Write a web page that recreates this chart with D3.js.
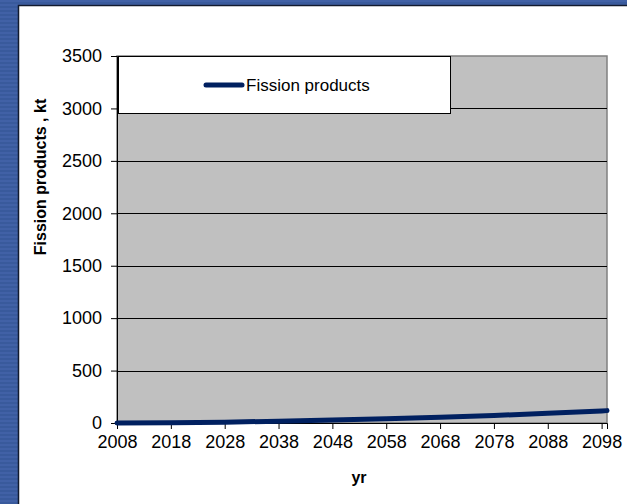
<!DOCTYPE html>
<html>
<head>
<meta charset="utf-8">
<script src="https://cdn.jsdelivr.net/npm/d3@7"></script>
<style>
  html, body { margin: 0; padding: 0; background: #fff; }
  svg { display: block; font-family: "Liberation Sans", Arial, sans-serif; }
</style>
</head>
<body>
<div id="chart"></div>
<script>
const years = [2008, 2018, 2028, 2038, 2048, 2058, 2068, 2078, 2088, 2098, 2099];
const fissionProducts = [0, 3, 8, 17, 28, 40, 55, 72, 92, 115, 118];
const yTicks = [0, 500, 1000, 1500, 2000, 2500, 3000, 3500];
const xTicks = [2008, 2018, 2028, 2038, 2048, 2058, 2068, 2078, 2088, 2098];

const width = 627,
  height = 504;
const margin = { left: 117, top: 56, right: 20, bottom: 81 };

const svg = d3.select("#chart").append("svg").attr("width", width).attr("height", height);

// striped blue slide background
const defs = svg.append("defs");
const pat = defs.append("pattern").attr("id", "stripes").attr("width", 4).attr("height", 4).attr("patternUnits", "userSpaceOnUse");
pat.append("rect").attr("width", 4).attr("height", 4).attr("fill", "#4161a6");
pat.append("rect").attr("y", 2).attr("width", 4).attr("height", 2).attr("fill", "#395a9c");
svg.append("rect").attr("width", width).attr("height", height).attr("fill", "url(#stripes)");

// white chart panel
svg.append("rect").attr("x", 18).attr("y", 5).attr("width", width - 18).attr("height", height - 5).attr("fill", "#fff");
svg.append("path").attr("d", `M18.5,${height}V5.5H${width}`).attr("fill", "none").attr("stroke", "#111a2e").attr("stroke-width", 1.5);

const x = d3.scaleLinear().domain([2008, 2099]).range([margin.left, width - margin.right]);
const y = d3.scaleLinear().domain([0, 3500]).range([height - margin.bottom, margin.top]);

// plot area
svg
  .append("rect")
  .attr("x", x(2008))
  .attr("y", y(3500))
  .attr("width", x(2099) - x(2008))
  .attr("height", y(0) - y(3500))
  .attr("fill", "#c0c0c0")
  .attr("stroke", "#808080")
  .attr("stroke-width", 1.5);

// gridlines
svg
  .append("g")
  .selectAll("line")
  .data(yTicks.slice(1, -1))
  .join("line")
  .attr("x1", x(2008))
  .attr("x2", x(2099))
  .attr("y1", d => Math.round(y(d)) + 0.5)
  .attr("y2", d => Math.round(y(d)) + 0.5)
  .attr("stroke", "#000")
  .attr("stroke-width", 1);

// axes
const yAxis = svg
  .append("g")
  .attr("transform", `translate(${x(2008)},0)`)
  .call(d3.axisLeft(y).tickValues(yTicks).tickSize(6).tickPadding(9).tickFormat(d3.format("d")));

const xAxis = svg
  .append("g")
  .attr("transform", `translate(0,${y(0)})`)
  .call(d3.axisBottom(x).tickValues(xTicks).tickSize(6).tickPadding(6).tickFormat(d3.format("d")));

[yAxis, xAxis].forEach(g => {
  g.attr("font-size", null).attr("font-family", null);
  g.select(".domain").attr("stroke", "#000");
  g.selectAll(".tick line").attr("stroke", "#000");
  g.selectAll("text").attr("fill", "#000").style("font-size", "18px");
});

// series line
const line = d3
  .line()
  .x((d, i) => x(years[i]))
  .y(d => y(d));

svg
  .append("path")
  .datum(fissionProducts)
  .attr("d", line)
  .attr("fill", "none")
  .attr("stroke", "#002060")
  .attr("stroke-width", 5)
  .attr("stroke-linecap", "round")
  .attr("stroke-linejoin", "round");

// legend
const lg = svg.append("g");
lg.append("rect")
  .attr("x", 118.5)
  .attr("y", 56.5)
  .attr("width", 332)
  .attr("height", 57)
  .attr("fill", "#fff")
  .attr("stroke", "#000")
  .attr("stroke-width", 1);
lg.append("line")
  .attr("x1", 206)
  .attr("x2", 242)
  .attr("y1", 85)
  .attr("y2", 85)
  .attr("stroke", "#002060")
  .attr("stroke-width", 5)
  .attr("stroke-linecap", "round");
lg.append("text").attr("x", 246).attr("y", 91).style("font-size", "17px").attr("fill", "#000").text("Fission products");

// axis titles
svg
  .append("text")
  .attr("transform", `translate(46,177) rotate(-90)`)
  .attr("text-anchor", "middle")
  .style("font-size", "16px")
  .style("font-weight", "bold")
  .text("Fission products , kt");

svg
  .append("text")
  .attr("x", 359)
  .attr("y", 483)
  .attr("text-anchor", "middle")
  .style("font-size", "16px")
  .style("font-weight", "bold")
  .text("yr");
</script>
</body>
</html>
